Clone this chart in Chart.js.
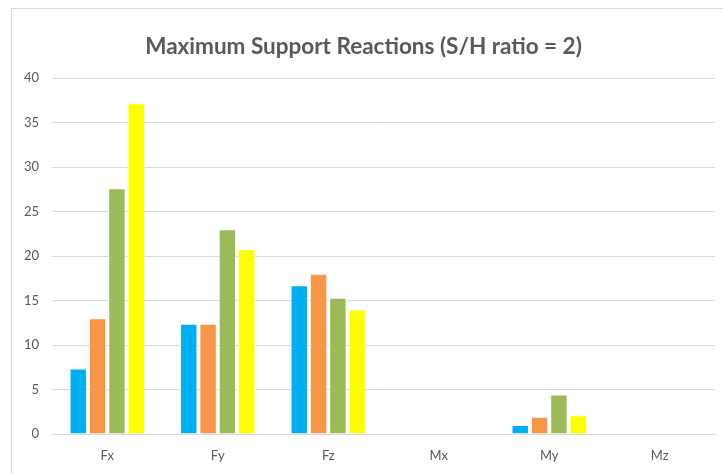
<!DOCTYPE html>
<html>
<head>
<meta charset="utf-8">
<script src="https://cdn.jsdelivr.net/npm/chart.js@4.4.1/dist/chart.umd.min.js"></script>
<style>
    html, body { margin: 0; padding: 0; background: #fff; }
    #frame {
        position: absolute;
        left: 11px;
        top: 8px;
        width: 720px;
        height: 470px;
        border: 1px solid #d9d9d9;
        box-sizing: border-box;
    }
    #chart { display: block; }
</style>
</head>
<body>
<div id="frame"><canvas id="chart" width="720" height="470"></canvas></div>
<script>
const categories = ["Fx", "Fy", "Fz", "Mx", "My", "Mz"];
const series1 = [7.35, 12.4, 16.7, 0, 1.0, 0];
const series2 = [13.0, 12.4, 18.0, 0, 1.95, 0];
const series3 = [27.6, 23.0, 15.3, 0, 4.45, 0];
const series4 = [37.15, 20.8, 14.0, 0, 2.1, 0];
const yTicks = [0, 5, 10, 15, 20, 25, 30, 35, 40];

const TEXT = "#595959";
const GRID = "#d9d9d9";
const FONT = "Lato, 'Open Sans', sans-serif";

function barSet(label, data, color) {
    return {
        label,
        data,
        backgroundColor: color,
        borderColor: "#ffffff",
        borderWidth: 1,
        borderSkipped: "bottom",
    };
}

new Chart(document.getElementById("chart"), {
    type: "bar",
    data: {
        labels: categories,
        datasets: [
            barSet("Series1", series1, "#00b0f0"),
            barSet("Series2", series2, "#f79646"),
            barSet("Series3", series3, "#9bbb59"),
            barSet("Series4", series4, "#ffff00"),
        ],
    },
    options: {
        responsive: false,
        animation: false,
        categoryPercentage: 0.7,
        barPercentage: 0.9,
        layout: { padding: { left: 0, right: 17, top: 0, bottom: 15 } },
        plugins: {
            legend: { display: false },
            tooltip: { enabled: false },
            title: {
                display: true,
                text: "Maximum Support Reactions (S/H ratio = 2)",
                color: TEXT,
                font: { family: FONT, size: 22.5, weight: "bold", lineHeight: 1.2 },
                padding: { top: 24, bottom: 18 },
            },
        },
        scales: {
            x: {
                grid: { display: false, drawTicks: false },
                border: { display: true, color: GRID },
                ticks: { color: TEXT, font: { family: FONT, size: 13 }, padding: 14 },
                afterFit: (scale) => { scale.height = 30; },
            },
            y: {
                min: 0,
                max: 40,
                afterBuildTicks: (scale) => { scale.ticks = yTicks.map((v) => ({ value: v })); },
                grid: { color: GRID, drawTicks: false },
                border: { display: false },
                ticks: { color: TEXT, font: { family: FONT, size: 13 }, padding: 13 },
                afterFit: (scale) => { scale.width = 40; },
            },
        },
    },
});
</script>
</body>
</html>
